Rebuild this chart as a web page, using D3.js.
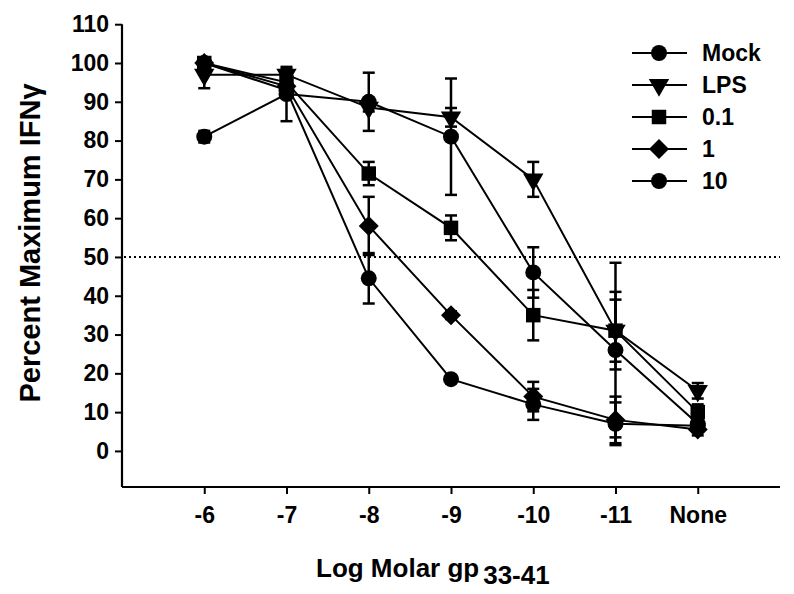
<!DOCTYPE html>
<html><head><meta charset="utf-8">
<script src="https://cdn.jsdelivr.net/npm/d3@7"></script>
<style>
body{margin:0;background:#fff;}
text{font-family:"Liberation Sans",Arial,sans-serif;font-weight:bold;fill:#000;}
</style></head>
<body><svg id="c" width="794" height="594"></svg>
<script>
const xLabels = ["-6","-7","-8","-9","-10","-11","None"];
const yTicks = [0,10,20,30,40,50,60,70,80,90,100,110];
const seriesNames = ["Mock","LPS","0.1","1","10"];
const mockVals = [81, 92, 90, 81, 46, 26, 7];
const mockErr  = [1.5, 7, 7.5, 15, 6.5, 22.5, 1.5];
const lpsVals  = [97, 97, 88.5, 86, 70, 31, 15.5];
const lpsErr   = [3.5, 1.5, 1, 2.4, 4.5, 10, 2];
const s01Vals  = [100, 95, 71.5, 57.5, 35, 31, 10];
const s01Err   = [1, 1.5, 3, 3.2, 6.5, 8, 2];
const s1Vals   = [100, 94, 58, 35, 14, 8, 5.5];
const s1Err    = [1, 2, 7.5, 1, 3.8, 6, 1.5];
const s10Vals  = [100, 93, 44.5, 18.5, 12, 7, 6.5];
const s10Err   = [1, 2, 6.5, 1, 4, 5.5, 1];
const refLine = 50;

const series = [
  {name:seriesNames[0], vals:mockVals, err:mockErr, shape:"circle"},
  {name:seriesNames[1], vals:lpsVals, err:lpsErr, shape:"tri"},
  {name:seriesNames[2], vals:s01Vals, err:s01Err, shape:"square"},
  {name:seriesNames[3], vals:s1Vals, err:s1Err, shape:"diamond"},
  {name:seriesNames[4], vals:s10Vals, err:s10Err, shape:"circle"}
];

const svg = d3.select("#c");
const x = d3.scaleLinear().domain([-1, 7]).range([122, 780]);
const y = d3.scaleLinear().domain([-9.3, 110]).range([487, 24.2]);

function shapePath(shape){
  const m = {
    circle: d3.symbol(d3.symbolCircle, 200),
    square: d3.symbol(d3.symbolSquare, 210),
    diamond: d3.symbol(d3.symbolSquare, 200),
    tri: d3.symbol(d3.symbolTriangle, 180)
  };
  return m[shape]();
}
function rot(shape){ return shape==="tri" ? " rotate(180)" : (shape==="diamond" ? " rotate(45)" : ""); }

// y axis
const yAxis = d3.axisLeft(y).tickValues(yTicks).tickSize(7).tickPadding(6).tickSizeOuter(0);
const gy = svg.append("g").attr("transform","translate(122,0)").call(yAxis);
gy.select(".domain").remove();
gy.append("line").attr("x1",0).attr("x2",0).attr("y1",y(110)).attr("y2",y.range()[0]).attr("stroke","#000").attr("stroke-width",2.2);
gy.selectAll(".tick line").attr("stroke","#000").attr("stroke-width",2);
gy.selectAll(".tick text").style("font-size","23px").attr("fill","#000");

// x axis
const xAxis = d3.axisBottom(x).tickValues(d3.range(xLabels.length)).tickFormat(i=>xLabels[i]).tickSize(7).tickPadding(13).tickSizeOuter(0);
const gx = svg.append("g").attr("transform","translate(0,487)").call(xAxis);
gx.select(".domain").remove();
gx.append("line").attr("x1",x(-1)).attr("x2",x(7)).attr("y1",0).attr("y2",0).attr("stroke","#000").attr("stroke-width",2.2);
gx.selectAll(".tick line").attr("stroke","#000").attr("stroke-width",2);
gx.selectAll(".tick text").style("font-size","23px").attr("fill","#000");

// reference dotted line
svg.append("line").attr("x1",x(-1)+2).attr("x2",x(7)).attr("y1",y(refLine)).attr("y2",y(refLine))
  .attr("stroke","#000").attr("stroke-width",2).attr("stroke-dasharray","2,3");

// titles
svg.append("text").attr("transform","translate(40,243) rotate(-90)").attr("text-anchor","middle")
  .style("font-size","29px").text("Percent Maximum IFNγ");
const xt = svg.append("text").attr("x",316).attr("y",577).style("font-size","26px");
xt.append("tspan").text("Log Molar gp");
xt.append("tspan").attr("dx",4).attr("dy",7).text("33-41");

// lines
const line = d3.line().x((d,i)=>x(i)).y(d=>y(d));
series.forEach(s=>{
  svg.append("path").attr("d",line(s.vals)).attr("fill","none").attr("stroke","#000").attr("stroke-width",2);
});
// error bars
series.forEach(s=>{
  const g = svg.append("g");
  s.vals.forEach((v,i)=>{
    const e = s.err[i];
    g.append("line").attr("x1",x(i)).attr("x2",x(i)).attr("y1",y(v-e)).attr("y2",y(v+e)).attr("stroke","#000").attr("stroke-width",2.5);
    [v-e, v+e].forEach(t=>{
      g.append("line").attr("x1",x(i)-6).attr("x2",x(i)+6).attr("y1",y(t)).attr("y2",y(t)).attr("stroke","#000").attr("stroke-width",2.5);
    });
  });
});
// markers
series.forEach(s=>{
  svg.append("g").selectAll("path").data(s.vals).join("path")
    .attr("d",shapePath(s.shape))
    .attr("transform",(d,i)=>`translate(${x(i)},${y(d)})${rot(s.shape)}`)
    .attr("fill","#000");
});

// legend
const lg = svg.append("g");
series.forEach((s,k)=>{
  const yy = 53 + k*32;
  lg.append("line").attr("x1",632).attr("x2",687).attr("y1",yy).attr("y2",yy).attr("stroke","#000").attr("stroke-width",2);
  lg.append("path").attr("d",shapePath(s.shape)).attr("transform",`translate(659,${yy})${rot(s.shape)}`).attr("fill","#000");
  lg.append("text").attr("x",702).attr("y",yy+8).style("font-size","23px").text(s.name);
});
</script></body></html>
